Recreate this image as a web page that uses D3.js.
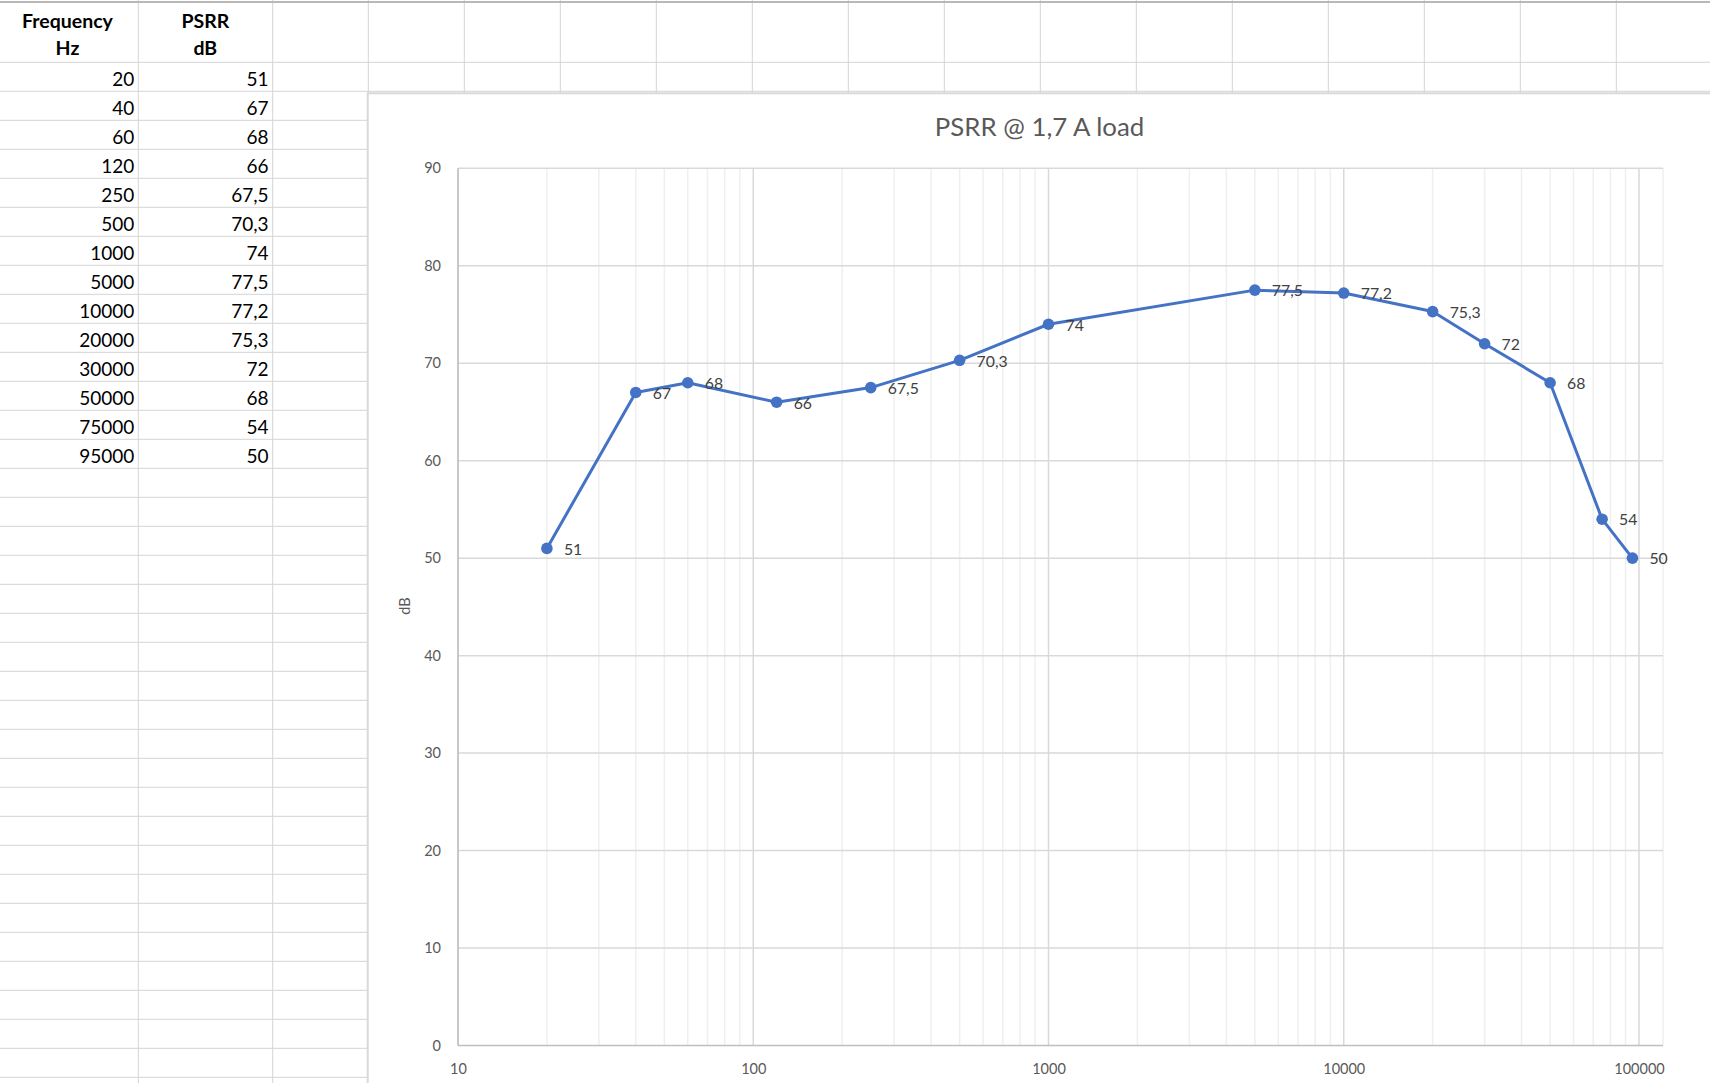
<!DOCTYPE html>
<html><head><meta charset="utf-8">
<script src="https://cdn.jsdelivr.net/npm/d3@7"></script>
<style>html,body{margin:0;padding:0;background:#fff;overflow:hidden}</style>
</head><body>
<svg id="c" width="1710" height="1083"></svg>
<script>
// ---- data ----
const frequencies = [20, 40, 60, 120, 250, 500, 1000, 5000, 10000, 20000, 30000, 50000, 75000, 95000];
const psrr = [51, 67, 68, 66, 67.5, 70.3, 74, 77.5, 77.2, 75.3, 72, 68, 54, 50];
const yTickValues = [0, 10, 20, 30, 40, 50, 60, 70, 80, 90];
const xTickValues = [10, 100, 1000, 10000, 100000];
const headerFreq = ["Frequency", "Hz"];
const headerPsrr = ["PSRR", "dB"];
const chartTitle = "PSRR @ 1,7 A load";
const yAxisTitle = "dB";

const fmt = v => String(v).replace(".", ",");
const svg = d3.select("#c");
const W = 1710, H = 1083;
const FONT = "Lato, 'Open Sans', sans-serif";

// ---- spreadsheet background ----
const sheet = svg.append("g");
const colEdges = [138.3, 272.7, 368.3];
for (let x = 464.3; x < W; x += 96) colEdges.push(x);
const rowEdges = [62.3];
for (let y = 62.3 + 29; y < H; y += 29) rowEdges.push(y);
sheet.selectAll("line.col").data(colEdges).join("line")
  .attr("x1", d => d).attr("x2", d => d).attr("y1", 0).attr("y2", H)
  .attr("stroke", "#d4d4d4").attr("stroke-width", 1);
sheet.selectAll("line.row").data(rowEdges).join("line")
  .attr("x1", 0).attr("x2", W).attr("y1", d => d).attr("y2", d => d)
  .attr("stroke", "#d4d4d4").attr("stroke-width", 1);
sheet.append("line").attr("x1", 0).attr("x2", W).attr("y1", 2).attr("y2", 2)
  .attr("stroke", "#b8b8b8").attr("stroke-width", 2);

// headers
const hdr = sheet.append("g").attr("font-family", FONT).attr("font-weight", "bold")
  .attr("font-size", 19.5).attr("fill", "#000").attr("text-anchor", "middle");
hdr.selectAll("text.f").data(headerFreq).join("text")
  .attr("x", 67.5).attr("y", (d, i) => 27.5 + i * 27.7).text(d => d);
hdr.selectAll("text.p").data(headerPsrr).join("text")
  .attr("x", 205.3).attr("y", (d, i) => 27.5 + i * 27.7).text(d => d);

// cells
const cells = sheet.append("g").attr("font-family", FONT).attr("font-size", 19)
  .attr("fill", "#000").attr("text-anchor", "end");
cells.selectAll("text.fq").data(frequencies).join("text")
  .attr("x", 134.3).attr("y", (d, i) => 85.5 + 29 * i).text(d => d);
cells.selectAll("text.ps").data(psrr).join("text")
  .attr("x", 268.5).attr("y", (d, i) => 85.5 + 29 * i).text(d => fmt(d));

// ---- chart area ----
const chart = svg.append("g");
chart.append("rect").attr("x", 367.7).attr("y", 93.3).attr("width", 1400).attr("height", 1100)
  .attr("fill", "#fff").attr("stroke", "#d9d9d9").attr("stroke-width", 2);

const plotL = 458, plotR = 1663, plotT = 168.3, plotB = 1045.5;
const x = d3.scaleLog().domain([10, 100000]).range([458, 1639]);
const y = d3.scaleLinear().domain([0, 90]).range([plotB, plotT]);

// minor vertical gridlines
const minor = [];
for (let dec = 10; dec < 100000; dec *= 10) for (let m = 2; m <= 9; m++) minor.push(dec * m);
chart.selectAll("line.minor").data(minor).join("line")
  .attr("x1", d => x(d)).attr("x2", d => x(d)).attr("y1", plotT).attr("y2", plotB)
  .attr("stroke", "#efefef").attr("stroke-width", 1.5);
chart.append("line").attr("x1", plotR).attr("x2", plotR).attr("y1", plotT).attr("y2", plotB)
  .attr("stroke", "#efefef").attr("stroke-width", 1.5);
// major vertical gridlines
chart.selectAll("line.major").data(xTickValues).join("line")
  .attr("x1", d => x(d)).attr("x2", d => x(d)).attr("y1", plotT).attr("y2", plotB)
  .attr("stroke", "#d9d9d9").attr("stroke-width", 1.5);
// horizontal gridlines
chart.selectAll("line.h").data(yTickValues.filter(v => v > 0)).join("line")
  .attr("x1", plotL).attr("x2", plotR).attr("y1", d => y(d)).attr("y2", d => y(d))
  .attr("stroke", "#d9d9d9").attr("stroke-width", 1.5);
// axes lines
chart.append("line").attr("x1", plotL).attr("x2", plotL).attr("y1", plotT).attr("y2", plotB)
  .attr("stroke", "#bfbfbf").attr("stroke-width", 1.5);
chart.append("line").attr("x1", plotL).attr("x2", plotR).attr("y1", plotB).attr("y2", plotB)
  .attr("stroke", "#bfbfbf").attr("stroke-width", 1.5);

// tick labels
const yAxis = d3.axisLeft(y).tickValues(yTickValues).tickSize(0).tickPadding(17).tickFormat(d => d);
const gy = chart.append("g").attr("transform", `translate(${plotL},0)`).call(yAxis);
gy.select(".domain").remove();
gy.selectAll("text").attr("font-family", FONT).attr("font-size", 14.5).attr("fill", "#595959");

const xAxis = d3.axisBottom(x).tickValues(xTickValues).tickSize(0).tickPadding(18).tickFormat(d => d);
const gx = chart.append("g").attr("transform", `translate(0,${plotB})`).call(xAxis);
gx.select(".domain").remove();
gx.selectAll("text").attr("font-family", FONT).attr("font-size", 14.5).attr("fill", "#595959");

// title
chart.append("text").attr("x", 1039.5).attr("y", 135.7).attr("text-anchor", "middle")
  .attr("font-family", FONT).attr("font-size", 25.8).attr("fill", "#595959").text(chartTitle);
// y axis title
chart.append("text").attr("transform", `translate(410,606) rotate(-90)`).attr("text-anchor", "middle")
  .attr("font-family", FONT).attr("font-size", 14.5).attr("fill", "#595959").text(yAxisTitle);

// series
const pts = frequencies.map((f, i) => ({ f, v: psrr[i] }));
const line = d3.line().x(d => x(d.f)).y(d => y(d.v));
chart.append("path").datum(pts).attr("d", line).attr("fill", "none")
  .attr("stroke", "#4472C4").attr("stroke-width", 3).attr("stroke-linejoin", "round");
chart.selectAll("circle.pt").data(pts).join("circle")
  .attr("cx", d => x(d.f)).attr("cy", d => y(d.v)).attr("r", 5.8).attr("fill", "#4472C4");
chart.selectAll("text.lbl").data(pts).join("text")
  .attr("x", d => x(d.f) + 17).attr("y", d => y(d.v) + 6.3)
  .attr("font-family", FONT).attr("font-size", 15.8).attr("fill", "#404040").text(d => fmt(d.v));
</script>
</body></html>
